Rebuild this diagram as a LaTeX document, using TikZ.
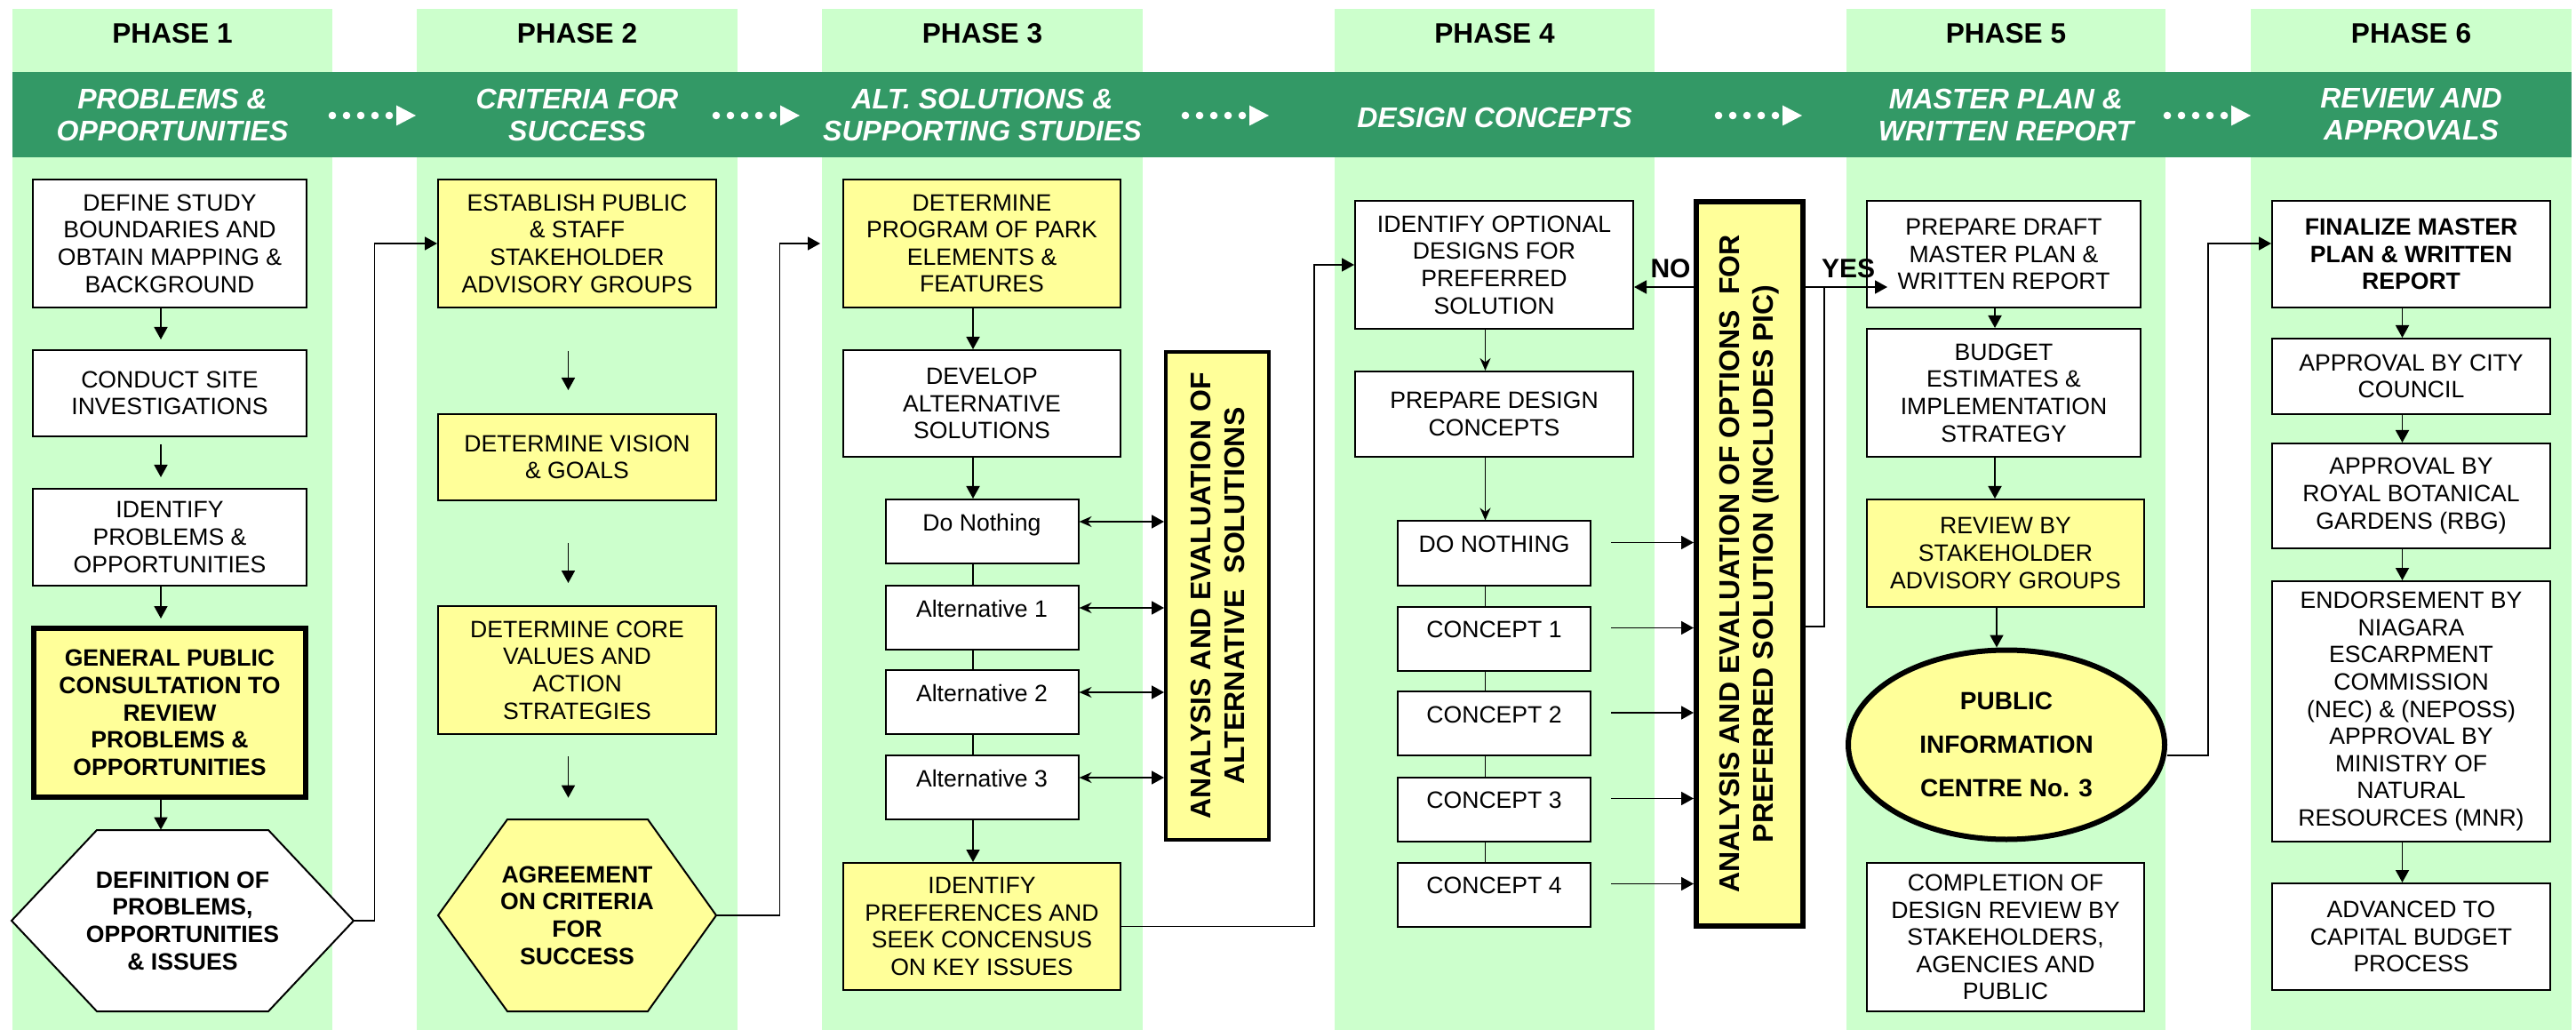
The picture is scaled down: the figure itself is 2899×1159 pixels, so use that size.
\documentclass[tikz,border=0pt]{standalone}
\usepackage{fontspec}
\setmainfont{Liberation Sans}
\usetikzlibrary{arrows.meta,shapes.geometric}
\definecolor{colgreen}{HTML}{CCFFCC}
\definecolor{bandgreen}{HTML}{339966}
\definecolor{boxyellow}{HTML}{FFFF99}
\def\dotarrow(#1){\foreach \k in {0,...,4}{\fill[white] (#1+4+16*\k,130) circle (2.15pt);}
	\fill[white] (#1+76,118.5) -- (#1+98,130) -- (#1+76,141.5) -- cycle;}

\begin{document}
\begin{tikzpicture}[x=0.5pt, y=-0.5pt,
		box/.style={draw=black, line width=1pt, fill=white, align=center, inner sep=2pt,
			minimum width=156pt, font=\fontsize{13.3}{15.3}\selectfont},
		ybox/.style={box, fill=boxyellow},
		bold/.style={font=\fontsize{13.3}{15.3}\selectfont\bfseries},
		smallbox/.style={box, minimum width=108.5pt, minimum height=36pt, text height=9.6pt, text depth=10.5pt},
		anabox/.style={draw=black, fill=boxyellow, rotate=90, align=center, inner sep=2pt,
			font=\fontsize{16}{19}\selectfont\bfseries},
		hextext/.style={align=center, inner sep=0pt, font=\fontsize{13.3}{15.3}\selectfont\bfseries},
		phasehead/.style={font=\fontsize{15.8}{18}\selectfont\bfseries},
		bandtext/.style={text=white, align=center, font=\fontsize{16}{18}\selectfont\bfseries\itshape},
		yesno/.style={font=\fontsize{15}{18}\selectfont\bfseries},
		arr/.style={line width=0.9pt, -{Triangle[length=7pt,width=7.5pt]}},
		varr/.style={arr, transform canvas={xshift=-5pt}},
		sarr/.style={line width=0.9pt, -{Stealth[length=7pt,width=6pt]}, transform canvas={xshift=-5pt}},
		dblarr/.style={line width=0.9pt, {Stealth[length=7pt,width=6pt]}-{Triangle[length=7pt,width=7.5pt]}},
		conn/.style={line width=0.9pt},
		vconn/.style={conn, transform canvas={xshift=-5pt}}]
	%%%%% START %%%%%
	\useasboundingbox (0,0) rectangle (2899,1159);
	
	% columns and band
	\fill[colgreen] (14,10) rectangle (374,1159);
	\fill[colgreen] (469,10) rectangle (830,1159);
	\fill[colgreen] (925,10) rectangle (1286,1159);
	\fill[colgreen] (1502,10) rectangle (1862,1159);
	\fill[colgreen] (2078,10) rectangle (2437,1159);
	\fill[colgreen] (2533,10) rectangle (2894,1159);
	\fill[bandgreen] (14,81.5) rectangle (2894,177.5);
	
	\node[phasehead] (h1) at (194,38) {PHASE 1};
	\node[phasehead] (h2) at (649.5,38) {PHASE 2};
	\node[phasehead] (h3) at (1105.5,38) {PHASE 3};
	\node[phasehead] (h4) at (1682,38) {PHASE 4};
	\node[phasehead] (h5) at (2257.5,38) {PHASE 5};
	\node[phasehead] (h6) at (2713.5,38) {PHASE 6};
	
	\node[bandtext] (b1) at (194,129) {PROBLEMS \&\\OPPORTUNITIES};
	\node[bandtext] (b2) at (649.5,129) {CRITERIA FOR\\SUCCESS};
	\node[bandtext] (b3) at (1105.5,129) {ALT. SOLUTIONS \&\\SUPPORTING STUDIES};
	\node[bandtext] (b4) at (1682,132) {DESIGN CONCEPTS};
	\node[bandtext] (b5) at (2257.5,129) {MASTER PLAN \&\\WRITTEN REPORT};
	\node[bandtext] (b6) at (2713.5,129) {REVIEW AND\\APPROVALS};
	
	\dotarrow(370)
	\dotarrow(802)
	\dotarrow(1330)
	\dotarrow(1930)
	\dotarrow(2435)
	
	% phase 1
	\node[box, minimum width=154pt, minimum height=72pt] (p1a) at (191,274) {DEFINE STUDY\\BOUNDARIES AND\\OBTAIN MAPPING \&\\BACKGROUND};
	\node[box, minimum width=154pt, minimum height=48.5pt] (p1b) at (191,442.5) {CONDUCT SITE\\INVESTIGATIONS};
	\node[box, minimum width=154pt, minimum height=54.5pt] (p1c) at (191,604.5) {IDENTIFY\\PROBLEMS \&\\OPPORTUNITIES};
	\node[ybox, bold, line width=3pt, minimum width=153pt, minimum height=95pt] (p1d) at (191,802) {GENERAL PUBLIC\\CONSULTATION TO\\REVIEW\\PROBLEMS \&\\OPPORTUNITIES};
	\draw[line width=1pt, fill=white] (109,934) -- (302,934) -- (398,1036) -- (302,1138) -- (109,1138) -- (13,1036) -- cycle;
	\node[hextext, minimum width=192.5pt, minimum height=102pt] (p1e) at (205.5,1036) {DEFINITION OF\\PROBLEMS,\\OPPORTUNITIES\\\& ISSUES};
	
	\draw[varr, shorten >=5.5pt] (p1a) -- (p1b);
	\draw[varr, shorten <=4pt, shorten >=6pt] (p1b) -- (p1c);
	\draw[varr, shorten >=4pt] (p1c) -- (p1d);
	\draw[varr] (p1d.south) -- (p1d.south |- p1e.north);
	
	% phase 2
	\node[ybox, minimum width=156.5pt, minimum height=72pt] (p2a) at (649.5,274) {ESTABLISH PUBLIC\\\& STAFF\\STAKEHOLDER\\ADVISORY GROUPS};
	\node[ybox, minimum width=156.5pt, minimum height=48.5pt] (p2b) at (649.5,514.5) {DETERMINE VISION\\\& GOALS};
	\node[ybox, minimum width=156.5pt, minimum height=72pt] (p2c) at (649.5,754) {DETERMINE CORE\\VALUES AND\\ACTION\\STRATEGIES};
	\draw[line width=1pt, fill=boxyellow] (571,922) -- (729,922) -- (806,1030) -- (729,1138) -- (571,1138) -- (493,1030) -- cycle;
	\node[hextext, minimum width=156.5pt, minimum height=108pt] (p2d) at (649.5,1030) {AGREEMENT\\ON CRITERIA\\FOR\\SUCCESS};
	
	\draw[arr] (p1e.east) -- ++(11.5pt,0) |- (p2a.west);
	\draw[varr, shorten <=24pt, shorten >=13pt] (p2a) -- (p2b);
	\draw[varr, shorten <=23.5pt, shorten >=12.5pt] (p2b) -- (p2c);
	\draw[varr, shorten <=12pt, shorten >=12pt] (p2c) -- (p2d);
	
	% phase 3
	\node[ybox, minimum height=72pt] (p3a) at (1105,274) {DETERMINE\\PROGRAM OF PARK\\ELEMENTS \&\\FEATURES};
	\node[box, minimum height=60pt] (p3b) at (1105,454) {DEVELOP\\ALTERNATIVE\\SOLUTIONS};
	\node[smallbox] (p3c) at (1105,598) {Do Nothing};
	\node[smallbox] (p3d) at (1105,695) {Alternative 1};
	\node[smallbox] (p3e) at (1105,790) {Alternative 2};
	\node[smallbox] (p3f) at (1105,886) {Alternative 3};
	\node[ybox, minimum height=71.5pt] (p3g) at (1105,1042.5) {IDENTIFY\\PREFERENCES AND\\SEEK CONCENSUS\\ON KEY ISSUES};
	% rotated: north is the left side, south the right side
	\node[anabox, line width=2pt, minimum width=274.5pt, minimum height=58pt] (ana1) at (1370,670.5) {ANALYSIS AND EVALUATION OF\\ALTERNATIVE\ \ SOLUTIONS};
	
	\draw[arr, shorten >=12.5pt] (p2d.east) -- ++(35.5pt,0) |- (p3a.west);
	\draw[varr] (p3a) -- (p3b);
	\draw[varr] (p3b) -- (p3c);
	\draw[vconn] (p3c) -- (p3d);
	\draw[vconn] (p3d) -- (p3e);
	\draw[vconn] (p3e) -- (p3f);
	\draw[varr] (p3f) -- (p3g);
	\foreach \n in {p3c,p3d,p3e,p3f}
		\draw[dblarr] ([yshift=5.5pt]\n.east) coordinate (t) -- (t -| ana1.north);
	
	% phase 4
	\node[box, minimum width=156.5pt, minimum height=72pt] (p4a) at (1681.5,298) {IDENTIFY OPTIONAL\\DESIGNS FOR\\PREFERRED\\SOLUTION};
	\node[box, minimum width=156.5pt, minimum height=48pt] (p4b) at (1681.5,466) {PREPARE DESIGN\\CONCEPTS};
	\node[smallbox] (p4c) at (1681.5,622.5) {DO NOTHING};
	\node[smallbox] (p4d) at (1681.5,718.5) {CONCEPT 1};
	\node[smallbox] (p4e) at (1681.5,814) {CONCEPT 2};
	\node[smallbox] (p4f) at (1681.5,910.5) {CONCEPT 3};
	\node[smallbox] (p4g) at (1681.5,1006.5) {CONCEPT 4};
	\node[anabox, line width=3pt, minimum width=407.5pt, minimum height=60pt] (ana2) at (1969,634.5) {ANALYSIS AND EVALUATION OF OPTIONS\ \ FOR\\PREFERRED SOLUTION (INCLUDES PIC)};
	
	\draw[arr] (p3g.east) -- ++(108.5pt,0) |- (p4a.west);
	\draw[sarr] (p4a) -- (p4b);
	\draw[sarr] (p4b) -- (p4c);
	\draw[vconn] (p4c) -- (p4d);
	\draw[vconn] (p4d) -- (p4e);
	\draw[vconn] (p4e) -- (p4f);
	\draw[vconn] (p4f) -- (p4g);
	\foreach \n in {p4c,p4d,p4e,p4f,p4g}
		\draw[arr] ([shift={(11pt,6pt)}]\n.east) coordinate (t) -- (t -| ana2.north);
	\path ([yshift=-12.5pt]p4a.east) coordinate (noend);
	\draw[arr] (noend -| ana2.north) -- (noend);
	\node[yesno] (no) at (1880,302) {NO};
	
	% phase 5
	\node[box, minimum width=154pt, minimum height=60pt] (p5a) at (2255,286) {PREPARE DRAFT\\MASTER PLAN \&\\WRITTEN REPORT};
	\node[box, minimum width=154pt, minimum height=72pt] (p5b) at (2255,442) {BUDGET\\ESTIMATES \&\\IMPLEMENTATION\\STRATEGY};
	\node[ybox, minimum height=60.5pt] (p5c) at (2257,622.5) {REVIEW BY\\STAKEHOLDER\\ADVISORY GROUPS};
	\node[draw, ellipse, line width=3pt, fill=boxyellow, align=center, font=\fontsize{14}{24.5}\selectfont\bfseries,
		minimum width=178pt, minimum height=106.5pt] (p5d) at (2258,838) {PUBLIC\\INFORMATION\\CENTRE No. 3};
	\node[box, minimum height=83.5pt] (p5e) at (2257,1054.5) {COMPLETION OF\\DESIGN REVIEW BY\\STAKEHOLDERS,\\AGENCIES AND\\PUBLIC};
	
	\coordinate (yesjoin) at (2053,323);
	\coordinate (yesend) at (2124,323);
	\draw[arr] (yesend -| ana2.south) -- (yesend);
	\draw[conn] ([yshift=-35.25pt]ana2.south) -| (yesjoin);
	\node[yesno] (yes) at (2080,302) {YES};
	
	\draw[varr] (p5a.south) -- (p5a.south |- p5b.north);
	\draw[varr] (p5b.south) -- (p5b.south |- p5c.north);
	\draw[varr] (p5c.south) -- (p5c.south |- p5d.north);
	
	% phase 6
	\node[box, bold, minimum width=156.5pt, minimum height=60pt] (p6a) at (2713.5,286) {FINALIZE MASTER\\PLAN \& WRITTEN\\REPORT};
	\node[box, minimum width=156.5pt, minimum height=42.5pt] (p6b) at (2713.5,423.5) {APPROVAL BY CITY\\COUNCIL};
	\node[box, minimum width=156.5pt, minimum height=59pt] (p6c) at (2713.5,558) {APPROVAL BY\\ROYAL BOTANICAL\\GARDENS (RBG)};
	\node[box, minimum width=156.5pt, minimum height=146.5pt] (p6d) at (2713.5,800.5) {ENDORSEMENT BY\\NIAGARA\\ESCARPMENT\\COMMISSION\\(NEC) \& (NEPOSS)\\APPROVAL BY\\MINISTRY OF\\NATURAL\\RESOURCES (MNR)};
	\node[box, minimum width=156.5pt, minimum height=60pt] (p6e) at (2713.5,1054) {ADVANCED TO\\CAPITAL BUDGET\\PROCESS};
	
	\draw[arr] ([yshift=-6pt]p5d.east) -- ++(23pt,0) |- ([yshift=6pt]p6a.west);
	\draw[varr] (p6a) -- (p6b);
	\draw[varr] (p6b) -- (p6c);
	\draw[varr] (p6c) -- (p6d);
	\draw[varr] (p6d) -- (p6e);
	
	%%%%% END %%%%%
\end{tikzpicture}
\end{document}
